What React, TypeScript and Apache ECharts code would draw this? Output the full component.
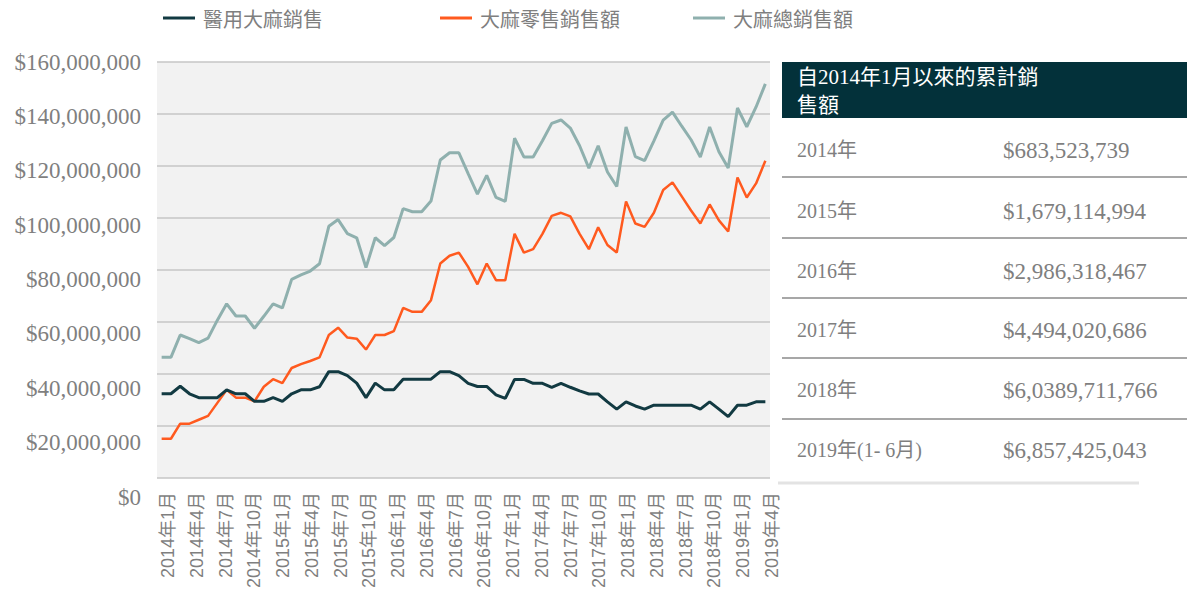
import React, { useEffect, useRef } from "react";
import * as echarts from "echarts";

// ---- data (millions of US$) ----
const years = [2014, 2015, 2016, 2017, 2018, 2019];
const categories: string[] = years
  .flatMap((y) => [1, 2, 3, 4, 5, 6, 7, 8, 9, 10, 11, 12].map((m) => `${y}年${m}月`))
  .slice(0, 66);

const xTickLabels = [
  "2014年1月", "2014年4月", "2014年7月", "2014年10月",
  "2015年1月", "2015年4月", "2015年7月", "2015年10月",
  "2016年1月", "2016年4月", "2016年7月", "2016年10月",
  "2017年1月", "2017年4月", "2017年7月", "2017年10月",
  "2018年1月", "2018年4月", "2018年7月", "2018年10月",
  "2019年1月", "2019年4月",
];

const yTickLabels = [
  "$0", "$20,000,000", "$40,000,000", "$60,000,000", "$80,000,000",
  "$100,000,000", "$120,000,000", "$140,000,000", "$160,000,000",
];

const medical = [
  32.4, 32.4, 35.3, 32.4, 30.9, 30.9, 30.9, 33.9, 32.4, 32.4, 29.5, 29.5,
  30.9, 29.5, 32.4, 33.9, 33.9, 35.1, 40.9, 40.9, 39.4, 36.5, 30.9, 36.5,
  33.9, 33.9, 38.0, 38.0, 38.0, 38.0, 40.9, 40.9, 39.4, 36.4, 35.2, 35.2,
  32.0, 30.6, 37.9, 37.9, 36.4, 36.4, 34.9, 36.4, 34.9, 33.5, 32.3, 32.3,
  29.3, 26.5, 29.3, 27.7, 26.5, 28.0, 28.0, 28.0, 28.0, 28.0, 26.5, 29.3,
  26.5, 23.6, 28.0, 28.0, 29.3, 29.3,
];

const retail = [
  15.1, 15.1, 20.9, 20.9, 22.4, 23.9, 28.9, 33.9, 30.9, 30.9, 29.5, 35.1,
  38.0, 36.5, 42.3, 43.8, 45.0, 46.4, 55.0, 57.8, 54.0, 53.6, 49.4, 55.0,
  55.0, 56.5, 65.4, 63.9, 63.9, 68.4, 82.5, 85.5, 86.7, 81.2, 74.5, 82.5,
  76.1, 76.1, 93.9, 86.7, 88.0, 93.9, 100.8, 102.0, 100.6, 93.9, 88.0, 96.4,
  89.6, 86.7, 106.4, 97.9, 96.6, 102.0, 110.8, 113.7, 108.3, 102.9, 97.9, 105.2,
  99.1, 94.8, 115.6, 107.9, 113.3, 122.0,
];

const total = [
  46.4, 46.4, 55.0, 53.6, 52.1, 53.8, 60.7, 67.0, 62.3, 62.3, 57.6, 62.2,
  67.0, 65.4, 76.4, 78.1, 79.6, 82.4, 96.8, 99.4, 94.0, 92.4, 80.9, 92.4,
  89.4, 92.5, 103.6, 102.4, 102.4, 106.5, 122.3, 125.1, 125.1, 117.1, 109.2, 116.4,
  107.9, 106.4, 130.7, 123.5, 123.5, 129.7, 136.4, 137.7, 134.6, 127.8, 119.2, 127.8,
  117.7, 112.1, 135.0, 123.6, 122.1, 129.7, 137.6, 140.7, 135.3, 130.1, 123.4, 135.0,
  125.5, 119.2, 142.3, 135.1, 142.7, 151.6,
];

const seriesNames = ["醫用大麻銷售", "大麻零售銷售額", "大麻總銷售額"];
const seriesColors = ["#123a42", "#ff5a1f", "#8fb0ae"];

const tableTitle = ["自2014年1月以來的累計銷", "售額"];
const tableYears = ["2014年", "2015年", "2016年", "2017年", "2018年", "2019年(1- 6月)"];
const tableValues = [
  "$683,523,739", "$1,679,114,994", "$2,986,318,467",
  "$4,494,020,686", "$6,0389,711,766", "$6,857,425,043",
];

const GRAY = "#7f7f7f";
const SERIF = '"Liberation Serif", "Noto Sans CJK TC", serif';
const SANS = '"Noto Sans CJK TC", "Noto Sans", sans-serif';

export default function App() {
  const ref = useRef<HTMLDivElement>(null);

  useEffect(() => {
    if (!ref.current) return;
    const chart = echarts.init(ref.current, undefined, { renderer: "svg" });

    const rowY = [150, 211, 271, 330, 390, 450];
    const sepY = [177, 238, 298, 358, 419];
    const graphic: any[] = [
      { type: "rect", shape: { x: 782, y: 62, width: 405, height: 56 }, style: { fill: "#03313a" } },
      { type: "text", x: 797, y: 77, style: { text: tableTitle[0], fill: "#ffffff", font: `21px ${SERIF}`, verticalAlign: "middle" } },
      { type: "text", x: 797, y: 105, style: { text: tableTitle[1], fill: "#ffffff", font: `21px ${SERIF}`, verticalAlign: "middle" } },
      ...sepY.map((y) => ({
        type: "line",
        shape: { x1: 782, y1: y, x2: 1187, y2: y },
        style: { stroke: "#8a8a8a", lineWidth: 1.5 },
      })),
      { type: "line", shape: { x1: 778, y1: 483, x2: 1139, y2: 483 }, style: { stroke: "#e3e3e3", lineWidth: 3 } },
      ...tableYears.map((t, i) => ({
        type: "text", x: 797, y: rowY[i],
        style: { text: t, fill: GRAY, font: `20px ${SERIF}`, verticalAlign: "middle" },
      })),
      ...tableValues.map((t, i) => ({
        type: "text", x: 1003, y: rowY[i],
        style: { text: t, fill: GRAY, font: `23px ${SERIF}`, verticalAlign: "middle" },
      })),
    ];

    const legendBase = {
      top: 8,
      icon: "rect",
      itemWidth: 32,
      itemHeight: 3,
      selectedMode: false,
      padding: 0,
      textStyle: { fontFamily: SANS, fontSize: 20, color: GRAY, lineHeight: 20, padding: [0, 0, 0, 3] },
    };

    chart.setOption({
      animation: false,
      backgroundColor: "#ffffff",
      legend: [
        { ...legendBase, left: 163, data: [seriesNames[0]] },
        { ...legendBase, left: 440, data: [seriesNames[1]] },
        { ...legendBase, left: 693, data: [seriesNames[2]] },
      ],
      grid: [
        { left: 157, top: 62, width: 613, height: 416, show: true, backgroundColor: "#f2f2f2", borderWidth: 0 },
        { left: 153.6, top: 62, width: 632.8, height: 416, show: false },
        { left: 157, top: 62, width: 613, height: 435, show: false },
      ],
      xAxis: [
        {
          type: "category", gridIndex: 0, data: categories, boundaryGap: true,
          axisLine: { show: false }, axisTick: { show: false }, axisLabel: { show: false },
        },
        {
          type: "category", gridIndex: 1, data: xTickLabels, boundaryGap: true,
          axisLine: { show: false }, axisTick: { show: false },
          axisLabel: {
            show: true, rotate: 90, interval: 0, margin: 14,
            fontFamily: '"Liberation Sans", "Noto Sans CJK TC", sans-serif', fontSize: 18, color: GRAY,
          },
        },
        {
          type: "value", gridIndex: 2, show: false,
        },
      ],
      yAxis: [
        {
          type: "value", gridIndex: 0, min: 0, max: 160, interval: 20,
          axisLine: { show: false }, axisTick: { show: false }, axisLabel: { show: false },
          splitLine: { show: true, lineStyle: { color: "#c6c6c6", width: 1.5 } },
        },
        {
          type: "value", gridIndex: 1, min: 0, max: 160, interval: 20, show: false,
        },
        {
          type: "value", gridIndex: 2, min: 0, max: 160, interval: 20,
          axisLine: { show: false }, axisTick: { show: false }, splitLine: { show: false },
          axisLabel: {
            show: true, margin: 16, fontFamily: SERIF, fontSize: 23, color: GRAY,
            formatter: (v: number) => yTickLabels[Math.round(v / 20)],
          },
        },
      ],
      series: [
        {
          name: seriesNames[2], type: "line", xAxisIndex: 0, yAxisIndex: 0, data: total,
          symbol: "none", color: seriesColors[2], lineStyle: { width: 3, color: seriesColors[2] }, z: 2,
        },
        {
          name: seriesNames[1], type: "line", xAxisIndex: 0, yAxisIndex: 0, data: retail,
          symbol: "none", color: seriesColors[1], lineStyle: { width: 2.5, color: seriesColors[1] }, z: 3,
        },
        {
          name: seriesNames[0], type: "line", xAxisIndex: 0, yAxisIndex: 0, data: medical,
          symbol: "none", color: seriesColors[0], lineStyle: { width: 3, color: seriesColors[0] }, z: 4,
        },
      ],
      graphic,
    });

    return () => chart.dispose();
  }, []);

  return (
    <div
      ref={ref}
      style={{ position: "fixed", left: 0, top: 0, width: 1191, height: 608, background: "#fff" }}
    />
  );
}
